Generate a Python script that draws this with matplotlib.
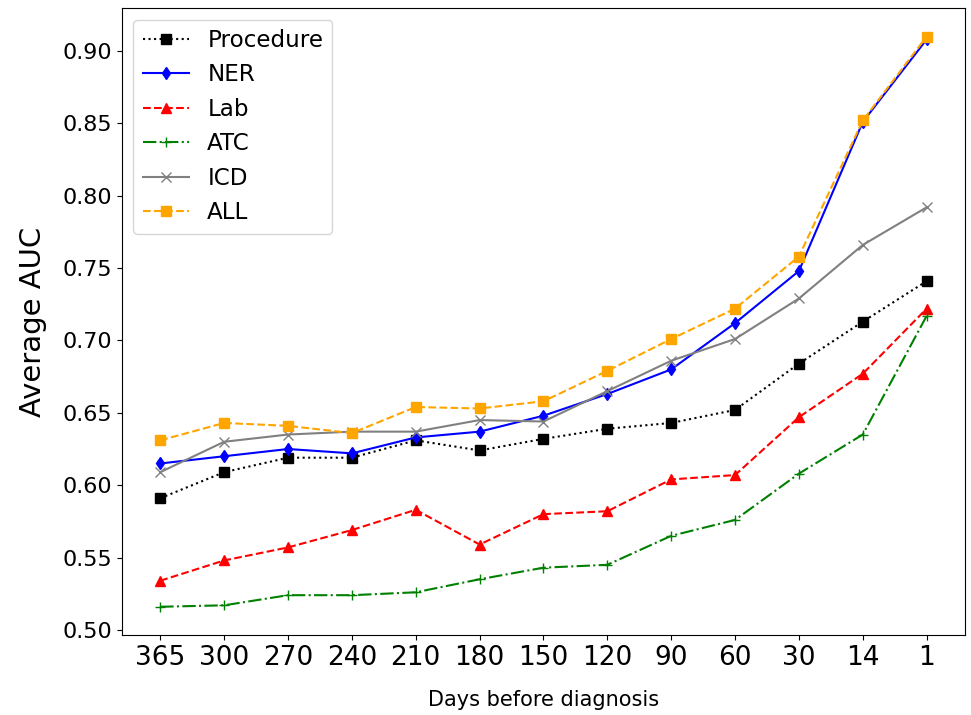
import matplotlib
matplotlib.use("Agg")
import matplotlib.pyplot as plt

days = ["365", "300", "270", "240", "210", "180", "150", "120", "90", "60", "30", "14", "1"]

procedure = [0.591, 0.609, 0.619, 0.619, 0.631, 0.624, 0.632, 0.639, 0.643, 0.652, 0.684, 0.713, 0.741]
ner = [0.615, 0.620, 0.625, 0.622, 0.633, 0.637, 0.648, 0.663, 0.680, 0.712, 0.748, 0.851, 0.908]
lab = [0.534, 0.548, 0.557, 0.569, 0.583, 0.559, 0.580, 0.582, 0.604, 0.607, 0.647, 0.677, 0.722]
atc = [0.516, 0.517, 0.524, 0.524, 0.526, 0.535, 0.543, 0.545, 0.565, 0.576, 0.608, 0.635, 0.717]
icd = [0.609, 0.630, 0.635, 0.637, 0.637, 0.645, 0.644, 0.665, 0.686, 0.701, 0.729, 0.766, 0.792]
all_feat = [0.631, 0.643, 0.641, 0.636, 0.654, 0.653, 0.658, 0.679, 0.701, 0.722, 0.758, 0.852, 0.910]

series = [
    ("Procedure", procedure, "black", ":", "s"),
    ("NER", ner, "blue", "-", "d"),
    ("Lab", lab, "red", "--", "^"),
    ("ATC", atc, "green", "-.", "+"),
    ("ICD", icd, "gray", "-", "x"),
    ("ALL", all_feat, "orange", "--", "s"),
]

fig = plt.figure(figsize=(9.71, 7.15), dpi=100)
# axes box
ax = fig.add_axes([0.1256, 0.1119, 0.8682, 0.8769])

x = list(range(len(days)))
for name, vals, color, ls, marker in series:
    ax.plot(x, vals, color=color, linestyle=ls, marker=marker,
            markersize=6.5, linewidth=1.5, label=name)

ax.set_xticks(x)
ax.set_xticklabels(days, fontsize=19)
ax.tick_params(axis="y", labelsize=16)
ax.set_yticks([0.50, 0.55, 0.60, 0.65, 0.70, 0.75, 0.80, 0.85, 0.90])
ax.set_ylim(0.4965, 0.9297)
ax.set_ylabel("Average AUC", fontsize=21, labelpad=11)
ax.set_xlabel("Days before diagnosis", fontsize=15, labelpad=14)
ax.legend(loc="upper left", fontsize=16.6)

fig.savefig("out.png", dpi=100)
